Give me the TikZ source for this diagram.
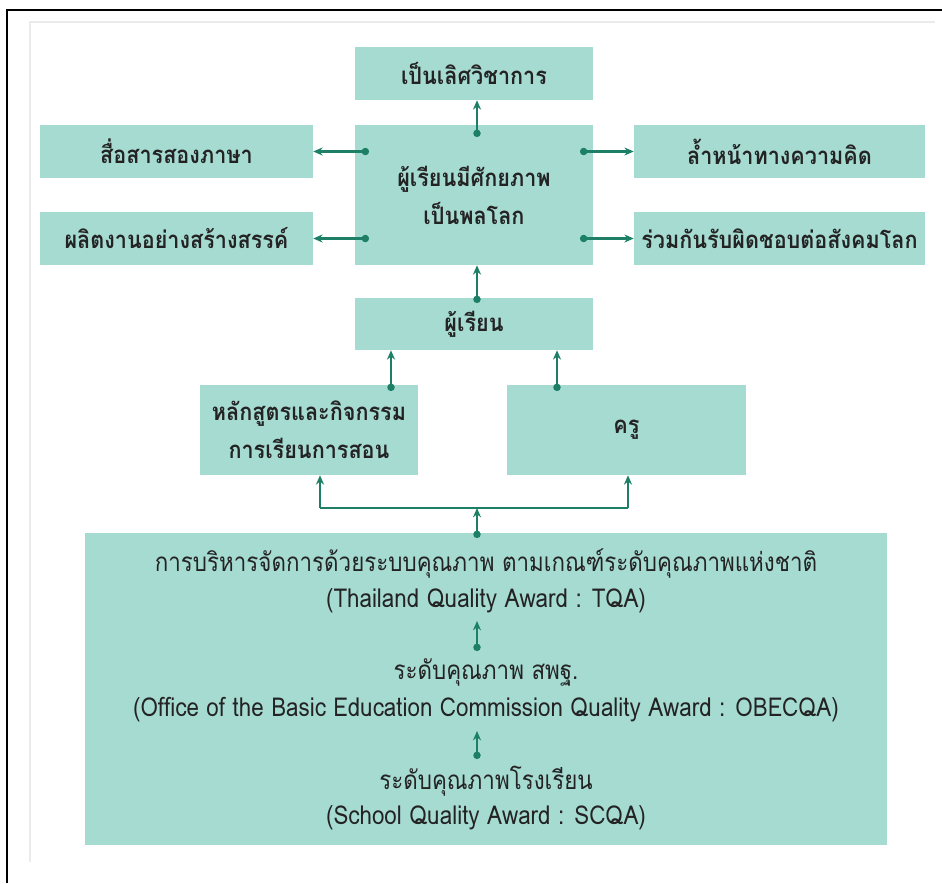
\documentclass[tikz,border=0pt]{standalone}
\usepackage{fontspec}
\usetikzlibrary{arrows.meta}
\newfontfamily\thai[Script=Thai,FakeStretch=0.9]{Loma}
\newfontfamily\thain[Script=Thai,FakeStretch=0.86]{Loma}
\definecolor{boxc}{HTML}{A6DBD2}
\definecolor{arrc}{HTML}{1C7F66}
\definecolor{txtc}{HTML}{232323}
\begin{document}
\begin{tikzpicture}[x=0.75pt,y=-0.75pt,
  box/.style={fill=boxc,draw=none,inner sep=0pt,align=center,text=txtc,font=\thai\bfseries\fontsize{18}{28.5}\selectfont},
  basetext/.style={inner sep=0pt,align=center,text=txtc,font=\thain\fontsize{19.5}{24}\selectfont},
  conn/.style={draw=arrc,line width=1.6pt,{Circle[length=5.5pt]}-{Stealth[length=7pt,width=6pt]}},
  plain/.style={draw=arrc,line width=1.6pt},
  tipconn/.style={draw=arrc,line width=1.6pt,-{Stealth[length=7pt,width=6pt]}}]
\useasboundingbox (0,0) rectangle (942,883);
\fill[white] (0,0) rectangle (942,883);
\draw[line width=1.6pt,black] (7,883) -- (7,10) -- (942,10);
\draw[black!8,line width=0.8pt] (30,862) -- (30,22) -- (935,22);
% boxes
\node[box,minimum width=238*0.75pt,minimum height=53*0.75pt] (top) at (474,73.5) {เป็นเลิศวิชาการ};
\node[box,minimum width=273*0.75pt,minimum height=53*0.75pt] (l1) at (176.5,151.5) {สื่อสารสองภาษา};
\node[box,minimum width=273*0.75pt,minimum height=53*0.75pt] (l2) at (176.5,238.5) {ผลิตงานอย่างสร้างสรรค์};
\node[box,minimum width=238*0.75pt,minimum height=140*0.75pt] (c) at (474,195) {ผู้เรียนมีศักยภาพ\\เป็นพลโลก};
\node[box,minimum width=291*0.75pt,minimum height=53*0.75pt] (r1) at (779.5,151.5) {ล้ำหน้าทางความคิด};
\node[box,minimum width=291*0.75pt,minimum height=53*0.75pt] (r2) at (779.5,238.5) {ร่วมกันรับผิดชอบต่อสังคมโลก};
\node[box,minimum width=238*0.75pt,minimum height=52*0.75pt] (stu) at (474,324) {ผู้เรียน};
\node[box,minimum width=218*0.75pt,minimum height=90*0.75pt] (cur) at (309,430) {หลักสูตรและกิจกรรม\\การเรียนการสอน};
\node[box,minimum width=239*0.75pt,minimum height=90*0.75pt] (tea) at (626.5,430) {ครู};
\node[fill=boxc,inner sep=0pt,minimum width=802*0.75pt,minimum height=312*0.75pt] (base) at (486,689) {};
% base texts
\node[basetext] (t1) at (486,563) {การบริหารจัดการด้วยระบบคุณภาพ ตามเกณฑ์ระดับคุณภาพแห่งชาติ};
\node[basetext] (t2) at (486,601) {(Thailand Quality Award : TQA)};
\node[basetext] (t3) at (486,672) {ระดับคุณภาพ สพฐ.};
\node[basetext] (t4) at (486,710) {(Office of the Basic Education Commission Quality Award : OBECQA)};
\node[basetext] (t5) at (486,781) {ระดับคุณภาพโรงเรียน};
\node[basetext] (t6) at (486,818) {(School Quality Award : SCQA)};
% connector start points
\coordinate (sTop) at (477,137);
\coordinate (sL1) at (369,151.5);
\coordinate (sL2) at (369,238.5);
\coordinate (sR1) at (580,151.5);
\coordinate (sR2) at (580,238.5);
\coordinate (sStu) at (477,303);
\coordinate (sCur) at (391,391);
\coordinate (sTea) at (557,391);
\coordinate (sBase) at (477,538);
\coordinate (jn) at (477,508);
\coordinate (jl) at (320,508);
\coordinate (jr) at (628,508);
\coordinate (s2) at (477,651);
\coordinate (e2) at (477,621);
\coordinate (s3) at (477,759);
\coordinate (e3) at (477,731);
% connectors
\draw[conn] (sTop) -- (sTop |- top.south);
\draw[conn] (sL1) -- (l1.east);
\draw[conn] (sL2) -- (l2.east);
\draw[conn] (sR1) -- (r1.west);
\draw[conn] (sR2) -- (r2.west);
\draw[conn] (sStu) -- (sStu |- c.south);
\draw[conn] (sCur) -- (sCur |- stu.south);
\draw[conn] (sTea) -- (sTea |- stu.south);
\draw[conn] (sBase) -- (jn);
\draw[plain] (jl) -- (jr);
\draw[tipconn] (jl) -- (jl |- cur.south);
\draw[tipconn] (jr) -- (jr |- tea.south);
\draw[conn] (s2) -- (e2);
\draw[conn] (s3) -- (e3);
\end{tikzpicture}
\end{document}
